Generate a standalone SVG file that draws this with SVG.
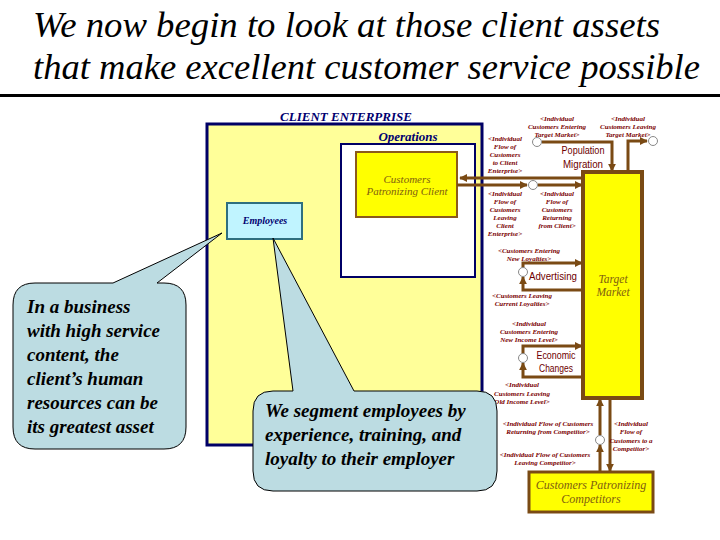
<svg xmlns="http://www.w3.org/2000/svg" width="720" height="540" viewBox="0 0 720 540">
<defs>
<marker id="ah" viewBox="0 0 10 10" refX="9" refY="5" markerWidth="8" markerHeight="8" markerUnits="userSpaceOnUse" orient="auto">
<path d="M0,0 L10,5 L0,10 Z" fill="#7A4A14"/>
</marker>
<style>
.title{font-style:italic;font-size:35px;fill:#000}
.lab{font-style:italic;font-weight:bold;font-size:7px;fill:#7A0000;text-anchor:middle}
.sans{font-size:11.5px;fill:#6E0000;text-anchor:middle}
.stock{font-style:italic;fill:#806010;text-anchor:middle}
.navy{font-style:italic;font-weight:bold;fill:#000070;text-anchor:middle}
.call{font-style:italic;font-weight:bold;font-size:19px;fill:#000}
.flow{fill:none;stroke:#7A4A14;stroke-width:3}
.cloud{fill:#fff;stroke:#888;stroke-width:1}
.bubble{fill:#BCDCE2;stroke:#000;stroke-width:1}
</style>
</defs>
<rect width="720" height="540" fill="#fff"/>

<g id="title" font-family="Liberation Serif, DejaVu Serif, serif">
<text class="title" x="33" y="37" textLength="627" lengthAdjust="spacingAndGlyphs">We now begin to look at those client assets</text>
<text class="title" x="33" y="79" textLength="667" lengthAdjust="spacingAndGlyphs">that make excellent customer service possible</text>
<rect x="0" y="94" width="720" height="3" fill="#000"/>
</g>

<g id="client-enterprise" font-family="Liberation Serif, DejaVu Serif, serif">
<text class="navy" x="346" y="121" font-size="13">CLIENT ENTERPRISE</text>
<rect x="207" y="124" width="275" height="321" fill="#FFFF99" stroke="#000066" stroke-width="3"/>
</g>

<g id="operations" font-family="Liberation Serif, DejaVu Serif, serif">
<text class="navy" x="408" y="141" font-size="13">Operations</text>
<rect x="341" y="144" width="134" height="133" fill="#fff" stroke="#000066" stroke-width="2"/>
</g>

<g id="customers-client" font-family="Liberation Serif, DejaVu Serif, serif">
<rect x="356" y="152" width="101" height="65" fill="#FFFF00" stroke="#8B5A1B" stroke-width="2"/>
<text class="stock" x="407" y="183" font-size="11">Customers</text>
<text class="stock" x="407" y="195" font-size="11">Patronizing Client</text>
</g>

<g id="employees" font-family="Liberation Serif, DejaVu Serif, serif">
<rect x="227" y="203" width="75" height="36" fill="#C0F4FF" stroke="#2F6F7F" stroke-width="2"/>
<text class="navy" x="265" y="224" font-size="10">Employees</text>
</g>

<g id="target-market" font-family="Liberation Serif, DejaVu Serif, serif">
<rect x="583" y="172" width="59" height="226" fill="#FFFF00" stroke="#7A4A14" stroke-width="4"/>
<text class="stock" x="613" y="283" font-size="11.5">Target</text>
<text class="stock" x="613" y="296" font-size="11.5">Market</text>
</g>

<g id="competitors" font-family="Liberation Serif, DejaVu Serif, serif">
<rect x="529" y="472" width="124" height="40" fill="#FFFF00" stroke="#7A4A14" stroke-width="3"/>
<text class="stock" x="591" y="489" font-size="12">Customers Patronizing</text>
<text class="stock" x="591" y="503" font-size="12">Competitors</text>
</g>

<g id="population-migration" font-family="Liberation Sans, Arial, sans-serif">
<text class="sans" x="583" y="154" textLength="43" lengthAdjust="spacingAndGlyphs">Population</text>
<text class="sans" x="583" y="168" textLength="40" lengthAdjust="spacingAndGlyphs">Migration</text>
</g>
<g id="advertising" font-family="Liberation Sans, Arial, sans-serif">
<text class="sans" x="553" y="280" textLength="48" lengthAdjust="spacingAndGlyphs">Advertising</text>
</g>
<g id="economic-changes" font-family="Liberation Sans, Arial, sans-serif">
<text class="sans" x="556" y="359" textLength="39" lengthAdjust="spacingAndGlyphs">Economic</text>
<text class="sans" x="556" y="372" textLength="34" lengthAdjust="spacingAndGlyphs">Changes</text>
</g>

<g id="connectors">
<path class="flow" d="M583,178 L460,178" marker-end="url(#ah)"/>
<path class="flow" d="M457,185 L527,185" marker-end="url(#ah)"/>
<path class="flow" d="M538,185 L582,185" marker-end="url(#ah)"/>
<path class="flow" d="M542,142 L612,142 L612,171" marker-end="url(#ah)"/>
<path class="flow" d="M628,171 L628,141 L647,141" marker-end="url(#ah)"/>
<path class="flow" d="M523,268 L523,263 L582,263" marker-end="url(#ah)"/>
<path class="flow" d="M582,290 L523,290 L523,277" marker-end="url(#ah)"/>
<path class="flow" d="M523,354 L523,346 L582,346" marker-end="url(#ah)"/>
<path class="flow" d="M582,377 L523,377 L523,363" marker-end="url(#ah)"/>
<path class="flow" d="M600,471 L600,445" marker-end="url(#ah)"/>
<path class="flow" d="M600,435 L600,399" marker-end="url(#ah)"/>
<path class="flow" d="M610,399 L610,471" marker-end="url(#ah)"/>
<circle class="cloud" cx="533" cy="185" r="4.5"/>
<circle class="cloud" cx="537" cy="142" r="4.5"/>
<circle class="cloud" cx="653" cy="141" r="4.5"/>
<circle class="cloud" cx="523" cy="272" r="4.5"/>
<circle class="cloud" cx="523" cy="358" r="4.5"/>
<circle class="cloud" cx="600" cy="440" r="4.5"/>
</g>

<g id="flow-labels" font-family="Liberation Serif, DejaVu Serif, serif">
<text class="lab" x="557" y="121">&lt;Individual</text>
<text class="lab" x="557" y="129">Customers Entering</text>
<text class="lab" x="557" y="137">Target Market&gt;</text>
<text class="lab" x="628" y="121">&lt;Individual</text>
<text class="lab" x="628" y="129">Customers Leaving</text>
<text class="lab" x="628" y="137">Target Market&gt;</text>
<text class="lab" x="505" y="141">&lt;Individual</text>
<text class="lab" x="505" y="149">Flow of</text>
<text class="lab" x="505" y="157">Customers</text>
<text class="lab" x="505" y="165">to Client</text>
<text class="lab" x="505" y="173">Enterprise&gt;</text>
<text class="lab" x="505" y="196">&lt;Individual</text>
<text class="lab" x="505" y="204">Flow of</text>
<text class="lab" x="505" y="212">Customers</text>
<text class="lab" x="505" y="220">Leaving</text>
<text class="lab" x="505" y="228">Client</text>
<text class="lab" x="505" y="236">Enterprise&gt;</text>
<text class="lab" x="557" y="196">&lt;Individual</text>
<text class="lab" x="557" y="204">Flow of</text>
<text class="lab" x="557" y="212">Customers</text>
<text class="lab" x="557" y="220">Returning</text>
<text class="lab" x="557" y="228">from Client&gt;</text>
<text class="lab" x="529" y="253">&lt;Customers Entering</text>
<text class="lab" x="529" y="261">New Loyalties&gt;</text>
<text class="lab" x="522" y="298">&lt;Customers Leaving</text>
<text class="lab" x="522" y="306">Current Loyalties&gt;</text>
<text class="lab" x="529" y="326">&lt;Individual</text>
<text class="lab" x="529" y="334">Customers Entering</text>
<text class="lab" x="529" y="342">New Income Level&gt;</text>
<text class="lab" x="522" y="387">&lt;Individual</text>
<text class="lab" x="522" y="396">Customers Leaving</text>
<text class="lab" x="522" y="404">Old Income Level&gt;</text>
<text class="lab" x="548" y="426">&lt;Individual Flow of Customers</text>
<text class="lab" x="548" y="434">Returning from Competitor&gt;</text>
<text class="lab" x="545" y="457">&lt;Individual Flow of Customers</text>
<text class="lab" x="545" y="465">Leaving Competitor&gt;</text>
<text class="lab" x="631" y="426">&lt;Individual</text>
<text class="lab" x="631" y="434">Flow of</text>
<text class="lab" x="631" y="443">Customers to a</text>
<text class="lab" x="631" y="451">Competitor&gt;</text>
</g>

<g id="callout-human-resources" font-family="Liberation Serif, DejaVu Serif, serif">
<path class="bubble" d="M35,283 L113,283 L222,233 L157,283 L164,283 Q186,283 186,305 L186,427 Q186,449 164,449 L35,449 Q13,449 13,427 L13,305 Q13,283 35,283 Z"/>
<text class="call" x="27" y="313">In a business</text>
<text class="call" x="27" y="337">with high service</text>
<text class="call" x="27" y="361">content, the</text>
<text class="call" x="27" y="385">client’s human</text>
<text class="call" x="27" y="409">resources can be</text>
<text class="call" x="27" y="433">its greatest asset</text>
</g>

<g id="callout-segment" font-family="Liberation Serif, DejaVu Serif, serif">
<path class="bubble" d="M273,391 L293,391 L273,238 L354,391 L477,391 Q497,391 497,411 L497,471 Q497,491 477,491 L273,491 Q253,491 253,471 L253,411 Q253,391 273,391 Z"/>
<text class="call" x="265" y="417" font-size="18">We segment employees by</text>
<text class="call" x="265" y="441" font-size="18">experience, training, and</text>
<text class="call" x="265" y="465" font-size="18">loyalty to their employer</text>
</g>
</svg>
